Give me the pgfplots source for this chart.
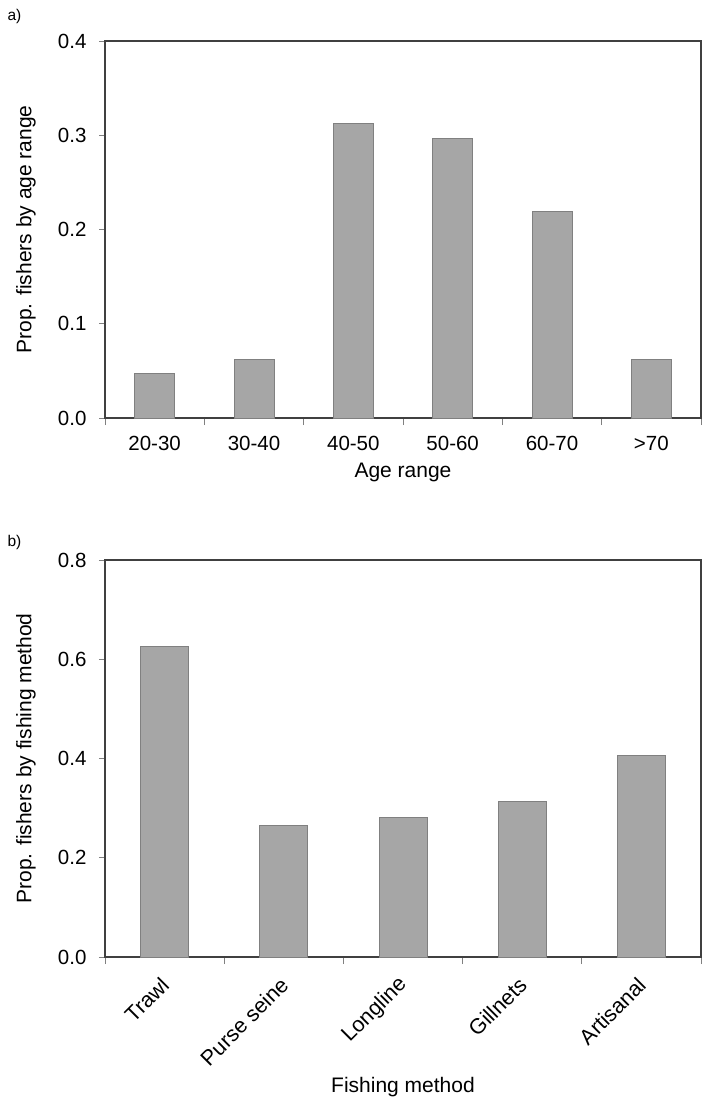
\documentclass[border=0pt]{standalone}
\usepackage{fontspec}
\setmainfont{Liberation Sans}
\usepackage{pgfplots}
\pgfplotsset{compat=1.18}
\definecolor{barfill}{HTML}{A6A6A6}
\definecolor{baredge}{HTML}{808080}
\definecolor{axisc}{HTML}{404040}
\pgfplotsset{
  mystyle/.style={
    scale only axis, width=596pt,
    axis line style={axisc, line width=1.1pt},
    every tick/.style={gray, line width=0.9pt},
    ymin=0,
    tick align=outside,
    ytick pos=left, xtick pos=lower,
    major tick length=6pt, minor tick length=7pt,
    major x tick style={draw=none},
    xtick=data,
    /pgf/number format/assume math mode=true,
    yticklabel style={/pgf/number format/.cd, fixed, fixed zerofill, precision=1, /tikz/.cd, xshift=-9pt},
    tick label style={font=\fontsize{20.5}{22}\selectfont},
    label style={font=\fontsize{21}{23}\selectfont},
    ylabel style={at={(axis description cs:-0.1326,0.5)}, anchor=center},
    clip=false,
  }
}
\begin{document}
\begin{tikzpicture}[x=1pt,y=1pt]
\path[use as bounding box] (0,0) rectangle (711,-1102);
\node[anchor=center, font=\fontsize{15.5}{17}\selectfont] at (14.5,-16) {a)};
\node[anchor=center, font=\fontsize{15.5}{17}\selectfont] at (14.5,-542) {b)};
\begin{axis}[mystyle, at={(105pt,-418pt)}, anchor=south west,
  height=377pt,
  xmin=0.5, xmax=6.5, ymax=0.4, ytick={0,0.1,0.2,0.3,0.4},
  minor xtick={0.5,1.5,...,6.5},
  xticklabels={20-30,30-40,40-50,50-60,60-70,>70},
  xticklabel style={yshift=-9pt},
  xlabel={Age range},
  xlabel style={at={(axis description cs:0.5,0)}, anchor=center, yshift=-54pt},
  ylabel={Prop. fishers by age range},
]
\addplot[ybar, bar width=40pt, fill=barfill, draw=baredge, line width=1pt]
  coordinates {(1,0.046875) (2,0.0625) (3,0.3125) (4,0.296875) (5,0.21875) (6,0.0625)};
\end{axis}
\begin{axis}[mystyle, at={(105pt,-957pt)}, anchor=south west,
  height=397pt,
  xmin=0.5, xmax=5.5, ymax=0.8, ytick={0,0.2,0.4,0.6,0.8},
  minor xtick={0.5,1.5,...,5.5},
  xticklabels={Trawl,Purse seine,Longline,Gillnets,Artisanal},
  xticklabel style={xshift=3pt, yshift=-16pt, rotate=45, anchor=east, font=\fontsize{21.5}{23}\selectfont},
  xlabel={Fishing method},
  xlabel style={at={(axis description cs:0.5,0)}, anchor=center, yshift=-130pt},
  ylabel={Prop. fishers by fishing method},
]
\addplot[ybar, bar width=48pt, fill=barfill, draw=baredge, line width=1pt]
  coordinates {(1,0.625) (2,0.265625) (3,0.28125) (4,0.3125) (5,0.40625)};
\end{axis}
\end{tikzpicture}
\end{document}
